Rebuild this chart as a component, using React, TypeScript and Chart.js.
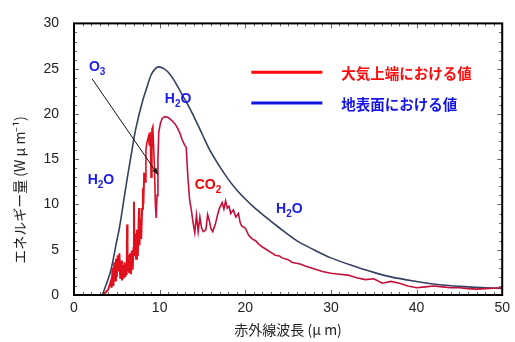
import React, { useEffect, useRef } from 'react';
import { Chart, registerables } from 'chart.js';

Chart.register(...registerables);

// Surface (blue) curve
const blueX = [3.3, 4.0, 4.3, 5.0, 5.3, 6.0, 6.2, 7.0, 7.2, 8.0, 8.4, 9.0, 9.9, 10.5, 11.0, 11.7, 12.0, 13.0, 13.8, 15.0, 15.8, 17.0, 18.0, 19.0, 20.0, 21.0, 22.0, 24.0, 26.0, 28.0, 30.0, 33.0, 35.0, 37.0, 40.0, 43.0, 45.0, 48.0, 50.0];
const blueY = [0.0, 1.8, 2.7, 6.0, 7.4, 11.6, 12.8, 17.3, 18.3, 21.4, 22.6, 24.3, 25.2, 25.0, 24.6, 23.7, 23.2, 21.5, 20.1, 17.7, 16.1, 14.2, 12.8, 11.6, 10.6, 9.7, 8.9, 7.4, 6.0, 5.0, 4.1, 3.1, 2.5, 2.0, 1.5, 1.1, 0.95, 0.8, 0.72];

// Top-of-atmosphere (red) curve
const redX = [3.4, 3.7, 4.0, 4.3, 4.4, 4.5, 4.6, 4.7, 4.8, 4.9, 5.0, 5.1, 5.2, 5.3, 5.4, 5.5, 5.6, 5.7, 5.8, 5.9, 6.0, 6.1, 6.15, 6.2, 6.25, 6.35, 6.45, 6.55, 6.65, 6.75, 6.85, 6.95, 7.0, 7.05, 7.15, 7.25, 7.35, 7.45, 7.55, 7.6, 7.65, 7.75, 7.85, 7.95, 8.05, 8.1, 8.2, 8.3, 8.4, 8.5, 8.7, 8.8, 8.9, 9.0, 9.1, 9.2, 9.4, 9.5, 9.6, 9.7, 9.8, 9.9, 10.1, 10.3, 10.6, 11.0, 11.4, 11.8, 12.1, 12.4, 12.6, 12.9, 13.1, 13.3, 13.5, 13.7, 13.9, 14.1, 14.3, 14.5, 14.7, 14.9, 15.1, 15.4, 15.6, 15.8, 16.0, 16.2, 16.5, 16.8, 17.0, 17.3, 17.5, 17.7, 17.9, 18.1, 18.3, 18.6, 18.9, 19.2, 19.4, 19.6, 20.0, 20.4, 20.8, 21.2, 21.6, 22.0, 22.5, 23.0, 23.5, 24.0, 24.3, 24.6, 25.0, 25.5, 26.0, 26.5, 27.0, 28.0, 29.0, 30.0, 31.0, 32.0, 33.0, 34.0, 35.0, 36.0, 37.0, 38.0, 39.0, 40.0, 41.0, 42.0, 43.0, 44.0, 45.0, 46.0, 47.0, 48.0, 49.0, 50.0];
const redY = [0.0, 0.3, 0.6, 1.5, 0.8, 3.0, 1.0, 3.6, 1.6, 4.0, 2.0, 4.4, 2.6, 4.6, 1.8, 3.8, 1.6, 3.3, 1.8, 3.6, 2.0, 3.4, 2.2, 7.8, 2.6, 4.4, 2.4, 4.6, 2.3, 4.9, 2.8, 5.2, 10.3, 4.3, 6.8, 4.0, 7.2, 4.3, 8.0, 9.6, 5.5, 8.4, 6.2, 9.5, 11.8, 10.0, 13.5, 12.5, 16.0, 16.8, 17.5, 16.5, 18.0, 13.0, 18.3, 18.6, 14.0, 10.0, 8.5, 11.0, 15.0, 18.0, 19.0, 19.5, 19.7, 19.6, 19.3, 18.9, 18.4, 17.8, 17.2, 16.6, 16.3, 13.0, 10.5, 9.4, 8.0, 6.9, 8.8, 7.0, 8.6, 7.4, 7.0, 7.2, 8.9, 8.2, 7.3, 7.0, 7.8, 9.0, 9.6, 10.2, 9.5, 10.4, 9.6, 9.8, 9.0, 9.4, 8.6, 9.0, 8.0, 7.6, 7.4, 6.6, 6.2, 6.0, 5.6, 5.3, 5.0, 4.7, 4.4, 4.3, 4.1, 4.0, 3.9, 3.6, 3.5, 3.4, 3.2, 2.9, 2.6, 2.4, 2.3, 2.2, 1.9, 1.7, 1.8, 1.3, 1.5, 1.3, 1.0, 0.8, 0.9, 1.0, 0.9, 0.8, 0.8, 0.7, 0.65, 0.7, 0.75, 0.8];

// Annotation labels ("_" marks a subscript character)
const noteLabels = ['O_3', 'H_2O', 'H_2O', 'CO_2', 'H_2O'];
const noteX = [1.74, 10.6, 1.6, 14.1, 23.6];
const noteY = [25.2, 21.6, 12.7, 12.1, 9.5];
const noteColors = ['#1c1ce8', '#1c1ce8', '#1c1ce8', '#f00000', '#1c1ce8'];

// Arrow from O3 label to the ozone band
const arrowFrom = [2.1, 23.9];
const arrowTo = [9.8, 13.3];

// Legend
const legendLabels = ['大気上端における値', '地表面における値'];
const legendColors = ['#ff0a0a', '#1414e6'];
const legendY = [24.6, 21.2];
const legendLineX = [20.7, 29.0];
const legendTextX = 31.2;

const yTitle = 'エネルギー量 (W μ m⁻¹)';
const xTitle = '赤外線波長 (μ m)';

const X_MIN = 0, X_MAX = 50, X_STEP = 10;
const Y_MIN = 0, Y_MAX = 30, Y_STEP = 5;

const overlay = {
  id: 'overlay',
  afterDatasetsDraw(chart: any) {
    const { ctx, chartArea: a, scales } = chart;
    const x = scales.x, y = scales.y;
    ctx.save();
    // inner tick marks
    ctx.strokeStyle = '#666';
    ctx.lineWidth = 1;
    for (let v = X_MIN; v <= X_MAX; v += 1) {
      const px = Math.round(x.getPixelForValue(v)) + 0.5;
      const len = v % 10 === 0 ? 5 : 3;
      ctx.beginPath();
      ctx.moveTo(px, a.top); ctx.lineTo(px, a.top + len);
      ctx.moveTo(px, a.bottom); ctx.lineTo(px, a.bottom - len);
      ctx.stroke();
    }
    for (let v = Y_MIN; v <= Y_MAX; v += 1) {
      const py = Math.round(y.getPixelForValue(v)) + 0.5;
      const len = v % 5 === 0 ? 5 : 3;
      ctx.beginPath();
      ctx.moveTo(a.left, py); ctx.lineTo(a.left + len, py);
      ctx.moveTo(a.right, py); ctx.lineTo(a.right - len, py);
      ctx.stroke();
    }
    // frame
    ctx.strokeStyle = '#000';
    ctx.lineWidth = 2;
    ctx.strokeRect(a.left, a.top, a.right - a.left, a.bottom - a.top);

    // y-axis title (placed lower than centre, as in the original)
    ctx.save();
    ctx.translate(20, 190);
    ctx.rotate(-Math.PI / 2);
    ctx.fillStyle = '#222';
    ctx.font = '14px "Noto Sans CJK JP", sans-serif';
    ctx.textAlign = 'center';
    ctx.textBaseline = 'middle';
    ctx.fillText(yTitle, 0, 0);
    ctx.restore();

    // arrow
    const ax0 = x.getPixelForValue(arrowFrom[0]), ay0 = y.getPixelForValue(arrowFrom[1]);
    const ax1 = x.getPixelForValue(arrowTo[0]), ay1 = y.getPixelForValue(arrowTo[1]);
    ctx.strokeStyle = '#111';
    ctx.fillStyle = '#111';
    ctx.lineWidth = 1;
    ctx.beginPath(); ctx.moveTo(ax0, ay0); ctx.lineTo(ax1, ay1); ctx.stroke();
    const ang = Math.atan2(ay1 - ay0, ax1 - ax0);
    const hl = 7, hw = 0.38;
    ctx.beginPath();
    ctx.moveTo(ax1, ay1);
    ctx.lineTo(ax1 - hl * Math.cos(ang - hw), ay1 - hl * Math.sin(ang - hw));
    ctx.lineTo(ax1 - hl * Math.cos(ang + hw), ay1 - hl * Math.sin(ang + hw));
    ctx.closePath(); ctx.fill();

    // notes
    ctx.textBaseline = 'middle';
    ctx.textAlign = 'left';
    noteLabels.forEach((lab, i) => {
      let px = x.getPixelForValue(noteX[i]);
      const py = y.getPixelForValue(noteY[i]);
      ctx.fillStyle = noteColors[i];
      for (let k = 0; k < lab.length; k++) {
        if (lab[k] === '_') {
          k++;
          ctx.font = 'bold 10px "Liberation Sans", Arial, sans-serif';
          ctx.fillText(lab[k], px, py + 5);
          px += ctx.measureText(lab[k]).width;
        } else {
          ctx.font = 'bold 14px "Liberation Sans", Arial, sans-serif';
          ctx.fillText(lab[k], px, py);
          px += ctx.measureText(lab[k]).width;
        }
      }
    });

    // legend
    legendLabels.forEach((lab, i) => {
      const py = y.getPixelForValue(legendY[i]);
      ctx.strokeStyle = legendColors[i];
      ctx.lineWidth = 3;
      ctx.beginPath();
      ctx.moveTo(x.getPixelForValue(legendLineX[0]), py);
      ctx.lineTo(x.getPixelForValue(legendLineX[1]), py);
      ctx.stroke();
      ctx.fillStyle = legendColors[i];
      ctx.font = 'bold 14.5px "Noto Sans CJK JP", sans-serif';
      ctx.fillText(lab, x.getPixelForValue(legendTextX), py + 1);
    });
    ctx.restore();
  },
};

export default function App() {
  const ref = useRef<HTMLCanvasElement>(null);
  useEffect(() => {
    const canvas = ref.current;
    if (!canvas) return;
    const chart = new Chart(canvas, {
      type: 'line',
      data: {
        datasets: [
          {
            label: '地表面における値',
            data: blueX.map((v, i) => ({ x: v, y: blueY[i] })),
            borderColor: '#34405e',
            borderWidth: 1.6,
            pointRadius: 0,
            cubicInterpolationMode: 'monotone',
            order: 2,
          },
          {
            label: '大気上端における値',
            data: redX.map((v, i) => ({ x: v, y: redY[i] })),
            borderColor: '#c4103a',
            borderWidth: 1.6,
            pointRadius: 0,
            tension: 0,
            order: 1,
            segment: {
              borderColor: (c: any) => (c.p0.parsed.x < 9.5 ? '#e0101e' : '#c4103a'),
              borderWidth: (c: any) => (c.p0.parsed.x < 8.2 ? 2 : 1.6),
            },
          },
        ],
      },
      options: {
        responsive: false,
        animation: false,
        layout: { padding: { top: 19, right: 11, left: 0, bottom: 0 } },
        plugins: { legend: { display: false }, tooltip: { enabled: false } },
        scales: {
          x: {
            type: 'linear',
            min: X_MIN,
            max: X_MAX,
            grid: { display: false, drawTicks: false },
            border: { display: false },
            ticks: {
              stepSize: X_STEP,
              padding: 5,
              color: '#222',
              font: { family: '"Liberation Sans", Arial, sans-serif', size: 14 },
              maxRotation: 0,
            },
            title: {
              display: true,
              text: xTitle,
              color: '#222',
              font: { family: '"Noto Sans CJK JP", sans-serif', size: 14 },
              padding: { top: 0, bottom: 4 },
            },
            afterFit: (s: any) => { s.height = 47; },
          },
          y: {
            type: 'linear',
            min: Y_MIN,
            max: Y_MAX,
            grid: { display: false, drawTicks: false },
            border: { display: false },
            ticks: {
              stepSize: Y_STEP,
              padding: 15,
              color: '#222',
              font: { family: '"Liberation Sans", Arial, sans-serif', size: 14 },
            },
            title: { display: false },
            afterFit: (s: any) => { s.width = 74; },
          },
        },
      },
      plugins: [overlay],
    });
    return () => chart.destroy();
  }, []);
  return (
    <div style={{ position: 'fixed', left: 0, top: 0, width: 515, height: 342, background: '#fff' }}>
      <canvas ref={ref} width={515} height={342} style={{ display: 'block' }} />
    </div>
  );
}
